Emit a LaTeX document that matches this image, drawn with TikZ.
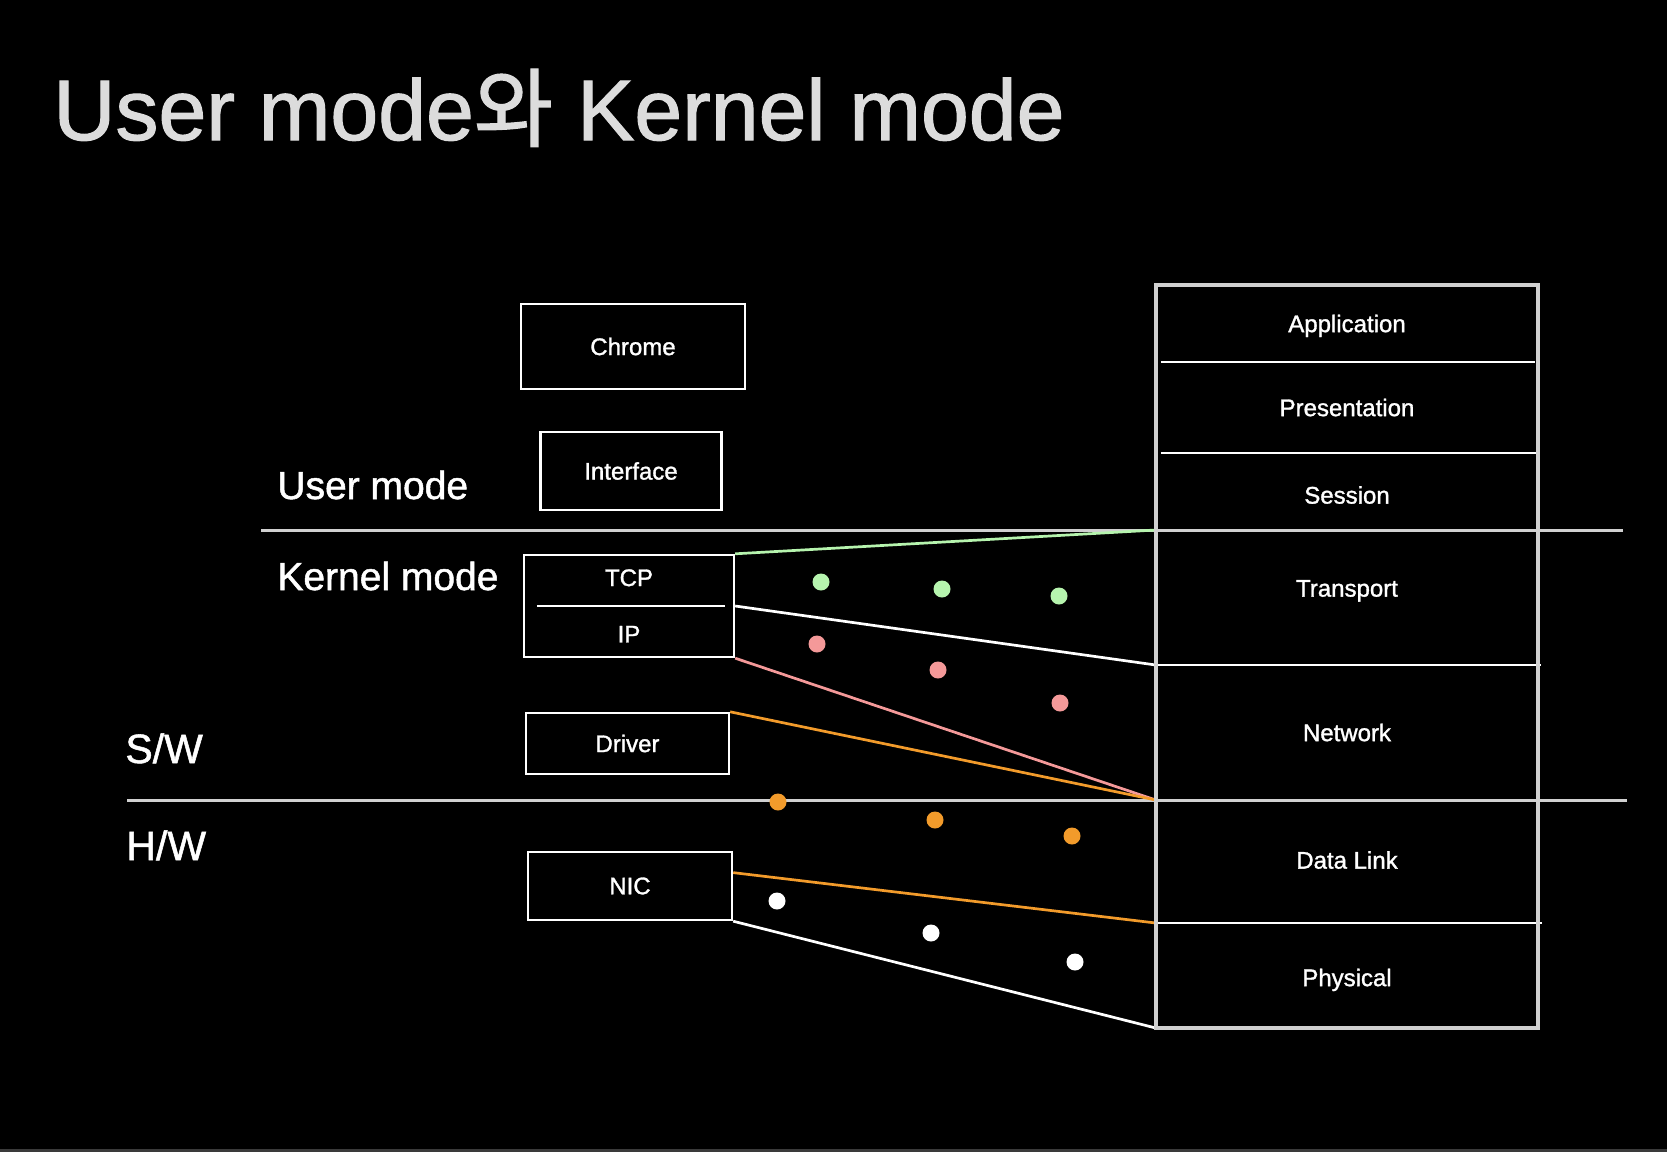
\documentclass[tikz,border=0pt]{standalone}
\usepackage{fontspec}
\setmainfont{Liberation Sans}[FakeBold=1.3]
\newfontfamily\krfont{Noto Sans CJK KR}[FakeBold=1.3]
\usetikzlibrary{positioning,calc}
\definecolor{dividergray}{HTML}{D0D0D0}
\definecolor{titlegray}{HTML}{DCDCDC}
\definecolor{edgegray}{HTML}{3A3A3A}
\definecolor{lgreen}{HTML}{B6F4AE}
\definecolor{lpink}{HTML}{F49999}
\definecolor{lorange}{HTML}{F29B2B}
\tikzset{
  white box/.style={
    draw=white,
    line width=1.2pt,
    text=white,
    font=\fontsize{12}{14}\selectfont,
    minimum width={#1*0.5pt},
  },
  box text/.style={
    text=white,
    font=\fontsize{12}{14}\selectfont,
    inner sep=0pt,
  },
  layer/.style={
    text=white,
    font=\fontsize{12}{14}\selectfont,
    inner sep=0pt,
    outer sep=0pt,
    text height=8.6pt,
    text depth=0pt,
    minimum width=191.25pt,
    minimum height={#1*0.5pt},
  },
  mode label/.style={
    anchor=base west,
    inner sep=0pt,
    text=white,
    font=\fontsize{#1}{24}\selectfont,
  },
  packet/.style={
    circle,
    fill=#1,
    inner sep=0pt,
    minimum size=8.5pt,
  },
  wire/.style={line width=1.35pt},
  layer line/.style={draw=white, line width=1.2pt},
  divider/.style={draw=dividergray, line width=1.5pt},
  osi frame/.style={draw=dividergray, line width=1.8pt},
}

\begin{document}
\begin{tikzpicture}[x=0.5pt, y=-0.5pt, node distance=0pt]
  % background
  \fill[black] (0,0) rectangle (1667,1152);
  \fill[edgegray] (0,1149) rectangle (1667,1152);

  \node[anchor=base west, inner sep=0pt, text=titlegray,
        font=\fontsize{43}{50}\selectfont] (title) at (53,140)
        {User mode{\krfont 와} Kernel mode};

  \node[mode label=19.5] (user) at (277,499) {User mode};
  \node[mode label=19.5] (kernel) at (277,590) {Kernel mode};
  \node[mode label=20.5] (sw) at (125,763) {S/W};
  \node[mode label=20.5] (hw) at (126,860) {H/W};

  % left column
  \node[white box=224, minimum height=42.5pt] (chrome) at (633,346.5) {Chrome};
  \node[white box=181, minimum height=39pt, below=20.3pt of chrome, xshift=-1pt] (iface) {Interface};
  \node[white box=210, minimum height=51pt, below=21.3pt of iface, xshift=-1pt] (tcpip) {};
  \node[box text] (tcp) at ([yshift=-12pt]tcpip.north) {TCP};
  \node[box text] (ip) at ([yshift=12pt]tcpip.south) {IP};
  \draw[layer line] ([xshift=7pt]tcpip.west) -- ([xshift=-5pt]tcpip.east);
  \node[white box=203, minimum height=30.5pt, below=26.8pt of tcpip, xshift=-0.75pt] (driver) {Driver};
  \node[white box=204, minimum height=34pt, below=37.8pt of driver, xshift=1.25pt] (nic) {NIC};

  % OSI layers
  \node[layer=77, anchor=north] (app) at (1347,285) {Application};
  \node[layer=91, below=of app] (pres) {Presentation};
  \node[layer=77, below=of pres] (sess) {\raisebox{-1.75pt}[\height][\depth]{Session}};
  \node[layer=135, below=of sess] (trans) {\raisebox{4.75pt}[\height][\depth]{Transport}};
  \node[layer=135, below=of trans] (net) {Network};
  \node[layer=123, below=of net] (link) {\raisebox{0.75pt}[\height][\depth]{Data Link}};
  \node[layer=105, below=of link] (phys) {\raisebox{-1pt}[\height][\depth]{Physical}};

  \draw[layer line] ([xshift=2.5pt]app.south west) -- ([xshift=-1.5pt]app.south east);
  \draw[layer line] ([xshift=2.5pt]pres.south west) -- (pres.south east);
  \draw[layer line] (trans.south west) -- ([xshift=1.5pt]trans.south east);
  \draw[layer line] (link.south west) -- ([xshift=2pt]link.south east);

  % mode borders
  \coordinate (umleft) at (261,530);
  \coordinate (umright) at (1623,530);
  \coordinate (swleft) at (127,800);
  \coordinate (swright) at (1627,800);
  \draw[divider] (umleft) -- (umright);
  \draw[divider] (swleft) -- (swright);

  % mapping to layers
  \draw[wire, lgreen] (tcpip.north east) -- (trans.north west);
  \draw[wire, white] (tcpip.east) -- (trans.south west);
  \draw[wire, lpink] (tcpip.south east) -- (net.south west);
  \draw[wire, lorange] (driver.north east) -- (net.south west);
  \draw[wire, lorange] ($(nic.north east)!0.31!(nic.south east)$) -- (link.south west);
  \draw[wire, white] (nic.south east) -- (phys.south west);

  \draw[osi frame] (app.north west) rectangle (phys.south east);

  \node[packet=lgreen] (g1) at (821,582) {};
  \node[packet=lgreen] (g2) at (942,589) {};
  \node[packet=lgreen] (g3) at (1059,596) {};
  \node[packet=lpink] (r1) at (817,644) {};
  \node[packet=lpink] (r2) at (938,670) {};
  \node[packet=lpink] (r3) at (1060,703) {};
  \node[packet=lorange] (o1) at (778,802) {};
  \node[packet=lorange] (o2) at (935,820) {};
  \node[packet=lorange] (o3) at (1072,836) {};
  \node[packet=white] (w1) at (777,901) {};
  \node[packet=white] (w2) at (931,933) {};
  \node[packet=white] (w3) at (1075,962) {};
\end{tikzpicture}
\end{document}
